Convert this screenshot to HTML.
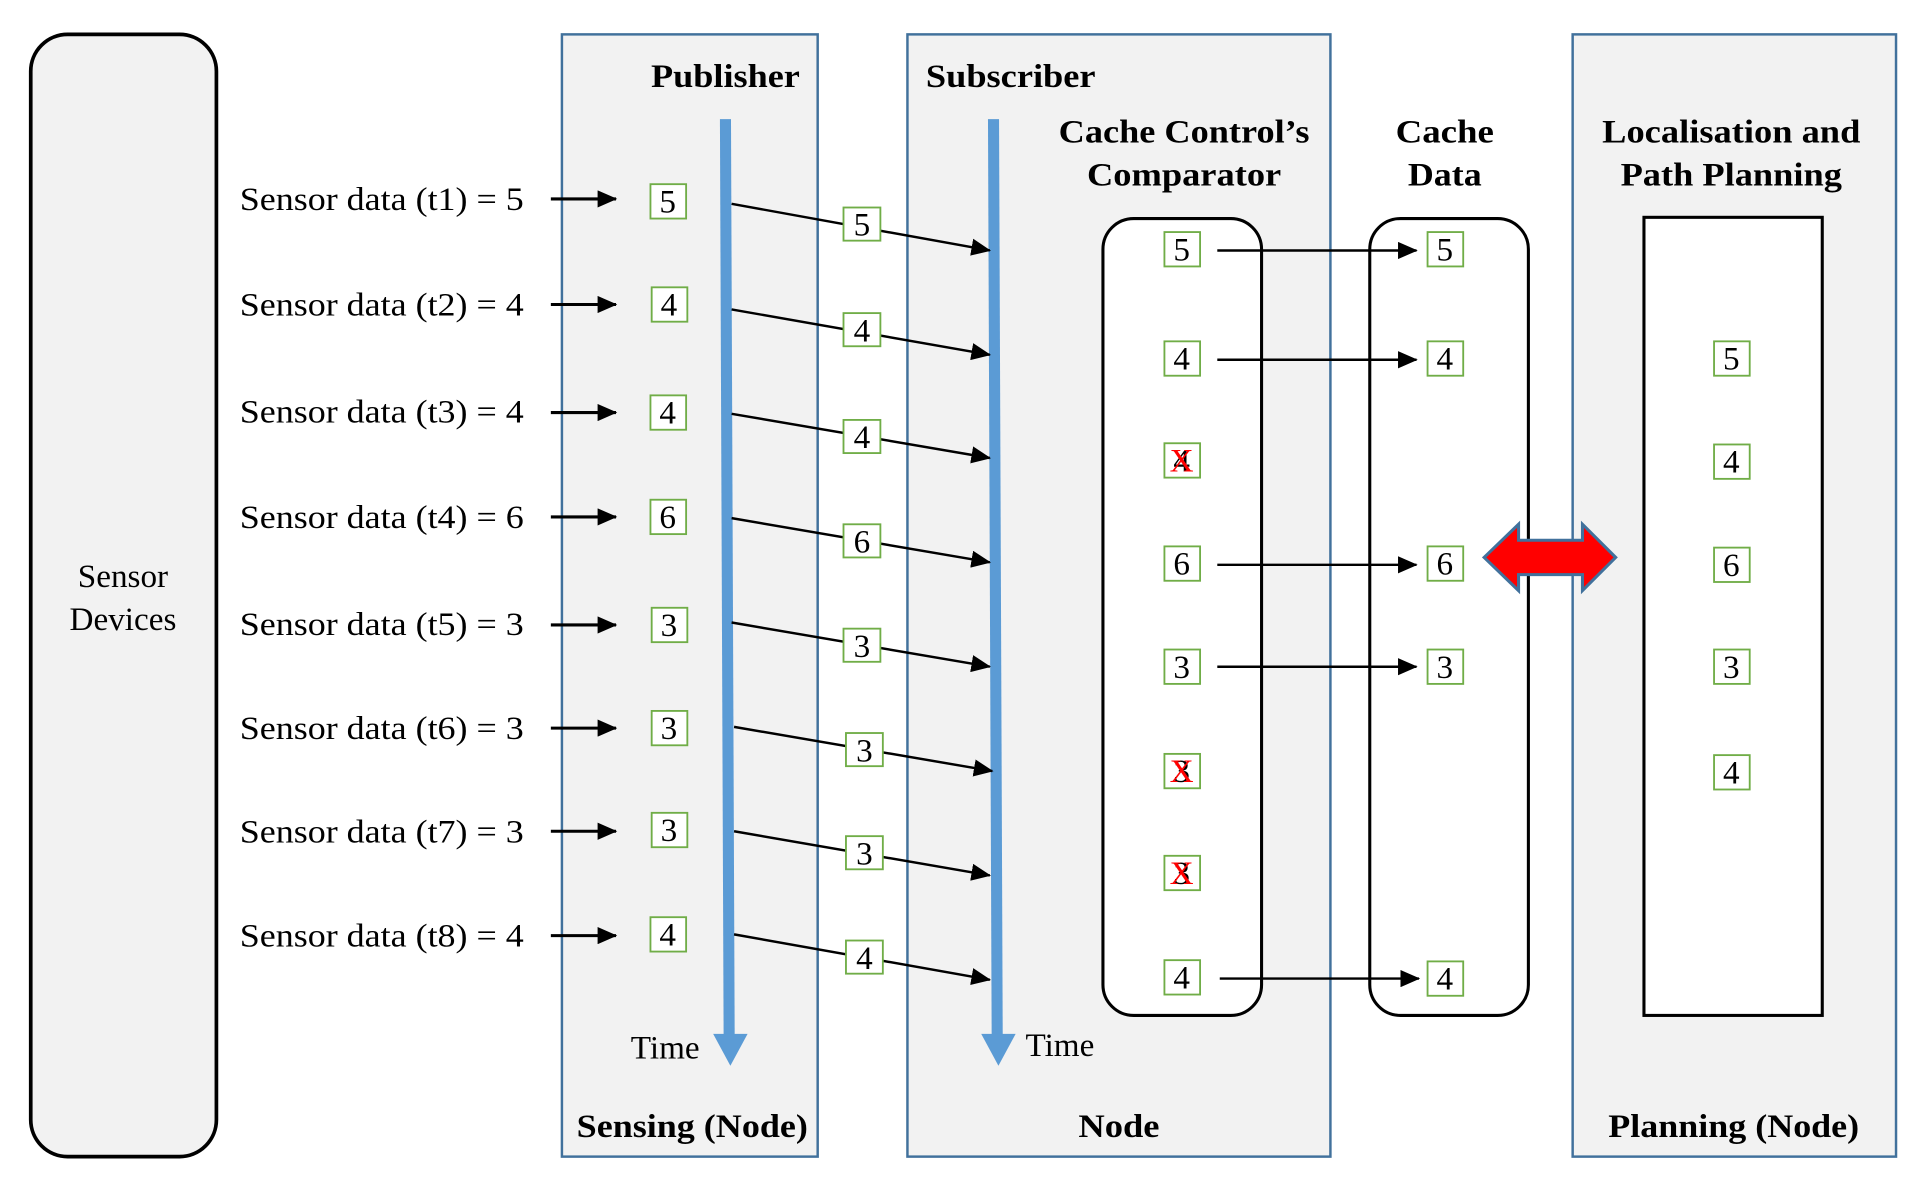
<!DOCTYPE html>
<html><head><meta charset="utf-8"><style>
html,body{margin:0;padding:0;background:#fff;}
svg{display:block;}
text{font-family:"Liberation Serif",serif;}
</style></head><body>
<svg width="1928" height="1191" viewBox="0 0 1568 970" preserveAspectRatio="none" xmlns="http://www.w3.org/2000/svg">
<defs>
<marker id="ah2" markerWidth="16" markerHeight="14" refX="15" refY="7" orient="auto" markerUnits="userSpaceOnUse">
<path d="M0,0 L16,7 L0,14 z" fill="#000"/></marker>
</defs>
<rect x="25" y="28" width="151" height="914" rx="30" fill="#f2f2f2" stroke="#000" stroke-width="3"/>
<text x="100" y="478" font-size="27" text-anchor="middle">Sensor</text>
<text x="100" y="513" font-size="27" text-anchor="middle">Devices</text>
<rect x="457" y="28" width="208" height="914" fill="#f2f2f2" stroke="#41719c" stroke-width="2"/>
<rect x="738" y="28" width="344" height="914" fill="#f2f2f2" stroke="#41719c" stroke-width="2"/>
<rect x="1279" y="28" width="263" height="914" fill="#f2f2f2" stroke="#41719c" stroke-width="2"/>
<g font-size="27" font-weight="bold" text-anchor="middle">
<text x="590" y="71" textLength="121" lengthAdjust="spacingAndGlyphs">Publisher</text>
<text x="822" y="71" textLength="138" lengthAdjust="spacingAndGlyphs">Subscriber</text>
<text x="963" y="116" textLength="204" lengthAdjust="spacingAndGlyphs">Cache Control’s</text>
<text x="963" y="151" textLength="158" lengthAdjust="spacingAndGlyphs">Comparator</text>
<text x="1175" y="116" textLength="80" lengthAdjust="spacingAndGlyphs">Cache</text>
<text x="1175" y="151" textLength="60" lengthAdjust="spacingAndGlyphs">Data</text>
<text x="1408" y="116" textLength="210" lengthAdjust="spacingAndGlyphs">Localisation and</text>
<text x="1408" y="151" textLength="180" lengthAdjust="spacingAndGlyphs">Path Planning</text>
<text x="563" y="926" textLength="188" lengthAdjust="spacingAndGlyphs">Sensing (Node)</text>
<text x="910" y="926" textLength="66" lengthAdjust="spacingAndGlyphs">Node</text>
<text x="1410" y="926" textLength="204" lengthAdjust="spacingAndGlyphs">Planning (Node)</text>
</g>
<path d="M590,97 L593,845" stroke="#5b9bd5" stroke-width="9"/>
<path d="M580,842 L608,842 L594,868 z" fill="#5b9bd5"/>
<path d="M808,97 L811,845" stroke="#5b9bd5" stroke-width="9"/>
<path d="M798,842 L826,842 L812,868 z" fill="#5b9bd5"/>
<text x="541" y="862" font-size="27" text-anchor="middle">Time</text>
<text x="862" y="860" font-size="27" text-anchor="middle">Time</text>
<rect x="897" y="178" width="129" height="649" rx="25" fill="#fff" stroke="#000" stroke-width="2.5"/>
<rect x="1114" y="178" width="129" height="649" rx="25" fill="#fff" stroke="#000" stroke-width="2.5"/>
<rect x="1337" y="177" width="145" height="650" fill="#fff" stroke="#000" stroke-width="2.5"/>
<g font-size="27">
<text x="195" y="171" textLength="231" lengthAdjust="spacingAndGlyphs">Sensor data (t1) = 5</text>
<text x="195" y="257" textLength="231" lengthAdjust="spacingAndGlyphs">Sensor data (t2) = 4</text>
<text x="195" y="344" textLength="231" lengthAdjust="spacingAndGlyphs">Sensor data (t3) = 4</text>
<text x="195" y="430" textLength="231" lengthAdjust="spacingAndGlyphs">Sensor data (t4) = 6</text>
<text x="195" y="517" textLength="231" lengthAdjust="spacingAndGlyphs">Sensor data (t5) = 3</text>
<text x="195" y="602" textLength="231" lengthAdjust="spacingAndGlyphs">Sensor data (t6) = 3</text>
<text x="195" y="686" textLength="231" lengthAdjust="spacingAndGlyphs">Sensor data (t7) = 3</text>
<text x="195" y="771" textLength="231" lengthAdjust="spacingAndGlyphs">Sensor data (t8) = 4</text>
</g>
<g stroke="#000" stroke-width="2.5" marker-end="url(#ah2)">
<line x1="448" y1="162" x2="501" y2="162"/>
<line x1="448" y1="248" x2="501" y2="248"/>
<line x1="448" y1="336" x2="501" y2="336"/>
<line x1="448" y1="421" x2="501" y2="421"/>
<line x1="448" y1="509" x2="501" y2="509"/>
<line x1="448" y1="593" x2="501" y2="593"/>
<line x1="448" y1="677" x2="501" y2="677"/>
<line x1="448" y1="762" x2="501" y2="762"/>
</g>
<g stroke="#000" stroke-width="2" marker-end="url(#ah2)">
<line x1="595" y1="166" x2="805" y2="204"/>
<line x1="595" y1="252" x2="805" y2="289"/>
<line x1="595" y1="337" x2="805" y2="373"/>
<line x1="595" y1="422" x2="805" y2="458"/>
<line x1="595" y1="507" x2="805" y2="543"/>
<line x1="597" y1="592" x2="807" y2="628"/>
<line x1="597" y1="677" x2="805" y2="713"/>
<line x1="597" y1="761" x2="805" y2="798"/>
<line x1="990" y1="204" x2="1152" y2="204"/>
<line x1="990" y1="293" x2="1152" y2="293"/>
<line x1="990" y1="460" x2="1152" y2="460"/>
<line x1="990" y1="543" x2="1152" y2="543"/>
<line x1="992" y1="797" x2="1154" y2="797"/>
</g>
<g font-size="27" text-anchor="middle">
<g fill="#fff" stroke="#70ad47" stroke-width="1.5">
<rect x="529" y="150" width="29" height="28"/><rect x="530" y="234" width="29" height="28"/><rect x="529" y="322" width="29" height="28"/><rect x="529" y="407" width="29" height="28"/><rect x="530" y="495" width="29" height="28"/><rect x="530" y="579" width="29" height="28"/><rect x="530" y="662" width="29" height="28"/><rect x="529" y="747" width="29" height="28"/>
<rect x="686" y="169" width="30" height="27"/><rect x="686" y="255" width="30" height="27"/><rect x="686" y="342" width="30" height="27"/><rect x="686" y="427" width="30" height="27"/><rect x="686" y="512" width="30" height="27"/><rect x="688" y="597" width="30" height="27"/><rect x="688" y="681" width="30" height="27"/><rect x="688" y="766" width="30" height="27"/>
<rect x="947" y="189" width="29" height="28"/><rect x="947" y="278" width="29" height="28"/><rect x="947" y="361" width="29" height="28"/><rect x="947" y="445" width="29" height="28"/><rect x="947" y="529" width="29" height="28"/><rect x="947" y="614" width="29" height="28"/><rect x="947" y="697" width="29" height="28"/><rect x="947" y="782" width="29" height="28"/>
<rect x="1161" y="189" width="29" height="28"/><rect x="1161" y="278" width="29" height="28"/><rect x="1161" y="445" width="29" height="28"/><rect x="1161" y="529" width="29" height="28"/><rect x="1161" y="783" width="29" height="28"/>
<rect x="1394" y="278" width="29" height="28"/><rect x="1394" y="362" width="29" height="28"/><rect x="1394" y="446" width="29" height="28"/><rect x="1394" y="529" width="29" height="28"/><rect x="1394" y="615" width="29" height="28"/>
</g>
<text x="543" y="173">5</text><text x="544" y="257">4</text><text x="543" y="345">4</text><text x="543" y="430">6</text><text x="544" y="518">3</text><text x="544" y="602">3</text><text x="544" y="685">3</text><text x="543" y="770">4</text>
<text x="701" y="192">5</text><text x="701" y="278">4</text><text x="701" y="365">4</text><text x="701" y="450">6</text><text x="701" y="535">3</text><text x="703" y="620">3</text><text x="703" y="704">3</text><text x="703" y="789">4</text>
<text x="961" y="212">5</text><text x="961" y="301">4</text><text x="961" y="384">4</text><text x="961" y="468">6</text><text x="961" y="552">3</text><text x="961" y="637">3</text><text x="961" y="720">3</text><text x="961" y="805">4</text>
<text x="961" y="384" fill="#f00">X</text><text x="961" y="637" fill="#f00">X</text><text x="961" y="720" fill="#f00">X</text>
<text x="1175" y="212">5</text><text x="1175" y="301">4</text><text x="1175" y="468">6</text><text x="1175" y="552">3</text><text x="1175" y="806">4</text>
<text x="1408" y="301">5</text><text x="1408" y="385">4</text><text x="1408" y="469">6</text><text x="1408" y="552">3</text><text x="1408" y="638">4</text>
</g>
<path d="M1207,454 L1235,427 L1235,440 L1287,440 L1287,427 L1314,454 L1287,481 L1287,468 L1235,468 L1235,481 z" fill="#f00" stroke="#41719c" stroke-width="2.5"/>
</svg>
</body></html>
